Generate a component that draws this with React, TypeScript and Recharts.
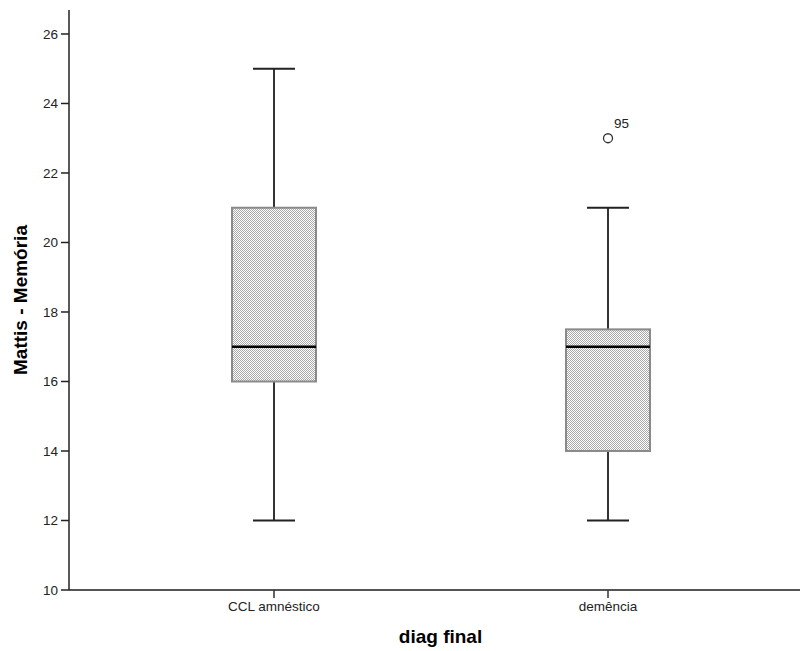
import { Bar, ComposedChart, Label, Scatter, XAxis, YAxis } from "recharts";

const categories = ["CCL amnéstico", "demência"];
const mins = [12, 12];
const q1s = [16, 14];
const medians = [17, 17];
const q3s = [21, 17.5];
const maxs = [25, 21];
const outlierValues: (number | null)[] = [null, 23];
const outlierLabels = ["", "95"];
const yTicks = [10, 12, 14, 16, 18, 20, 22, 24, 26];

const data = categories.map((name, i) => ({
  name,
  range: [mins[i], maxs[i]],
  min: mins[i],
  q1: q1s[i],
  median: medians[i],
  q3: q3s[i],
  max: maxs[i],
  outlier: outlierValues[i],
  outlierLabel: outlierLabels[i],
}));

const font = "'Liberation Sans', Arial, sans-serif";

// draws whiskers, box and median from the bar's pixel span (min..max)
const BoxShape = (props: any) => {
  const { x, y, width, height, payload, index } = props;
  if (height == null || !payload) return null;
  const toPx = (v: number) =>
    y + ((payload.max - v) / (payload.max - payload.min)) * height;
  const cx = x + width / 2;
  const capHalf = width / 4;
  const yQ1 = toPx(payload.q1);
  const yQ3 = toPx(payload.q3);
  const yMed = toPx(payload.median);
  const yMin = toPx(payload.min);
  const yMax = toPx(payload.max);
  const pid = `dots-${index}`;
  return (
    <g>
      <defs>
        <pattern id={pid} width={2} height={2} patternUnits="userSpaceOnUse">
          <rect width={2} height={2} fill="#ffffff" />
          <rect x={0} y={0} width={1} height={1} fill="#a8a8a8" />
          <rect x={1} y={1} width={1} height={1} fill="#a8a8a8" />
        </pattern>
      </defs>
      <line x1={cx} x2={cx} y1={yMax} y2={yQ3} stroke="#333" strokeWidth={2} />
      <line x1={cx} x2={cx} y1={yQ1} y2={yMin} stroke="#333" strokeWidth={2} />
      <line x1={cx - capHalf} x2={cx + capHalf} y1={yMax} y2={yMax} stroke="#222" strokeWidth={2} />
      <line x1={cx - capHalf} x2={cx + capHalf} y1={yMin} y2={yMin} stroke="#222" strokeWidth={2} />
      <rect
        x={x}
        y={yQ3}
        width={width}
        height={yQ1 - yQ3}
        fill={`url(#${pid})`}
        stroke="#8a8a8a"
        strokeWidth={2}
      />
      <line x1={x} x2={x + width} y1={yMed} y2={yMed} stroke="#000" strokeWidth={2.5} />
    </g>
  );
};

const OutlierShape = (props: any) => {
  const { cx, cy, payload } = props;
  if (cx == null || cy == null || payload?.outlier == null) return null;
  return (
    <g>
      <circle cx={cx} cy={cy} r={4.5} fill="#fff" stroke="#333" strokeWidth={1.3} />
      <text x={cx + 6} y={cy - 10} fontSize={13.5} fontFamily={font} fill="#222">
        {payload.outlierLabel}
      </text>
    </g>
  );
};

export default function App() {
  return (
    <div style={{ position: "absolute", left: 0, top: 0, background: "#fff" }}>
      <ComposedChart
        width={800}
        height={651}
        data={data}
        margin={{ top: 10, right: 0, bottom: 0, left: 0 }}
      >
        <XAxis
          xAxisId="top"
          orientation="top"
          dataKey="name"
          height={0}
          tick={false}
          tickLine={false}
          axisLine={{ stroke: "#8c8c8c", strokeWidth: 2 }}
          padding={{ left: 38, right: 25 }}
        />
        <XAxis
          dataKey="name"
          height={61}
          tickSize={8}
          tickMargin={3}
          padding={{ left: 38, right: 25 }}
          axisLine={{ stroke: "#555", strokeWidth: 2 }}
          tickLine={{ stroke: "#333", strokeWidth: 1.5 }}
          tick={{ fontSize: 13.5, fontFamily: font, fill: "#222" }}
        >
          <Label
            content={(p: any) => {
              const vb = p.viewBox;
              return (
                <text
                  x={vb.x + vb.width / 2 + 6}
                  y={643}
                  textAnchor="middle"
                  fontSize={19}
                  fontWeight="bold"
                  fontFamily={font}
                  fill="#000"
                >
                  diag final
                </text>
              );
            }}
          />
        </XAxis>
        <YAxis
          width={69}
          type="number"
          domain={[10, 26.69]}
          ticks={yTicks}
          tickSize={8}
          tickMargin={3}
          axisLine={{ stroke: "#222", strokeWidth: 1.5 }}
          tickLine={{ stroke: "#222", strokeWidth: 1.5 }}
          tick={{ fontSize: 13.5, fontFamily: font, fill: "#222" }}
          allowDataOverflow
        >
          <Label
            content={(p: any) => {
              const vb = p.viewBox;
              const cy = vb.y + vb.height / 2;
              return (
                <text
                  x={27}
                  y={cy}
                  transform={`rotate(-90 27 ${cy})`}
                  textAnchor="middle"
                  fontSize={19}
                  fontWeight="bold"
                  fontFamily={font}
                  fill="#000"
                >
                  Mattis - Memória
                </text>
              );
            }}
          />
        </YAxis>
        <Bar
          dataKey="range"
          barSize={84}
          shape={<BoxShape />}
          isAnimationActive={false}
        />
        <Scatter
          dataKey="outlier"
          shape={<OutlierShape />}
          isAnimationActive={false}
        />
      </ComposedChart>
    </div>
  );
}
